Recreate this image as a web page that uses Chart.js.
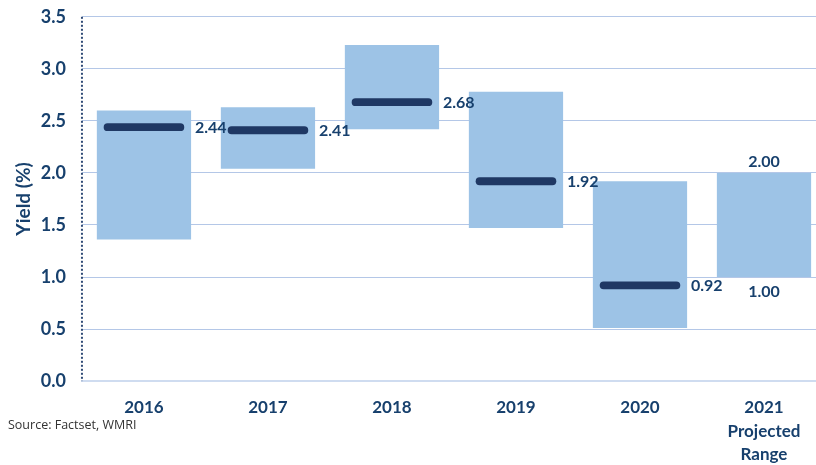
<!DOCTYPE html>
<html>
<head>
<meta charset="utf-8">
<script src="https://cdn.jsdelivr.net/npm/chart.js@4"></script>
<style>
    html, body { margin: 0; padding: 0; background: #fff; overflow: hidden; }
    #wrap { position: relative; width: 826px; height: 465px; overflow: hidden; }
    #yield_chart { position: absolute; left: 0; top: -10px; }
    #source {
        position: absolute; left: 8px; top: 416px;
        font: 12.5px 'Open Sans', sans-serif; color: #333;
    }
</style>
</head>
<body>
<div id="wrap">
    <canvas id="yield_chart" width="826" height="496"></canvas>
    <div id="source">Source: Factset, WMRI</div>
</div>
<script>
'use strict';

// yearly yield ranges (low / high) and the year average
var years = ['2016', '2017', '2018', '2019', '2020', ['2021', 'Projected', 'Range']];
var rangeLow = [1.36, 2.04, 2.42, 1.47, 0.51, 1.00];
var rangeHigh = [2.60, 2.63, 3.23, 2.78, 1.92, 2.00];
var average = [2.44, 2.41, 2.68, 1.92, 0.92, null];

var NAVY = '#1f3864';
var TEXT = '#17406d';
var FONT = 'Lato, "Open Sans", sans-serif';

/**
 * Dotted y axis line on the left of the plot area.
 */
var dottedAxis = {
    id: 'dottedAxis',
    beforeDatasetsDraw: function (chart) {
        var ctx = chart.ctx;
        var area = chart.chartArea;
        ctx.save();
        ctx.strokeStyle = '#2f4a75';
        ctx.lineWidth = 2;
        ctx.setLineDash([2, 2]);
        ctx.beginPath();
        ctx.moveTo(area.left, area.top);
        ctx.lineTo(area.left, area.bottom);
        ctx.stroke();
        ctx.restore();
    }
};

/**
 * Draw the value labels next to the average marks and round the 2021 range.
 */
var valueLabels = {
    id: 'valueLabels',
    afterDatasetsDraw: function (chart) {
        var ctx = chart.ctx;
        var x = chart.scales.x;
        var y = chart.scales.y;
        ctx.save();
        ctx.fillStyle = TEXT;
        ctx.font = 'bold 16px ' + FONT;
        ctx.textBaseline = 'middle';
        ctx.textAlign = 'left';
        average.forEach(function (v, i) {
            if (v === null) return;
            ctx.fillText(v.toFixed(2), x.getPixelForValue(i) + 51, y.getPixelForValue(v) + 1);
        });
        var last = years.length - 1;
        if (average[last] === null) {
            ctx.textAlign = 'center';
            ctx.fillText(rangeHigh[last].toFixed(2), x.getPixelForValue(last), y.getPixelForValue(rangeHigh[last]) - 11);
            ctx.fillText(rangeLow[last].toFixed(2), x.getPixelForValue(last), y.getPixelForValue(rangeLow[last]) + 15);
        }
        ctx.restore();
    }
};

var ctx = document.getElementById('yield_chart').getContext('2d');
new Chart(ctx, {
    type: 'bar',
    data: {
        labels: years,
        datasets: [{
            label: 'Average',
            data: average.map(function (v) { return v === null ? null : [v - 0.038, v + 0.038]; }),
            backgroundColor: NAVY,
            borderRadius: 5,
            borderSkipped: false,
            barPercentage: 0.65,
            categoryPercentage: 1,
            grouped: false,
            order: 0
        }, {
            label: 'Range',
            data: rangeLow.map(function (lo, i) { return [lo, rangeHigh[i]]; }),
            backgroundColor: '#9dc3e6',
            barPercentage: 0.76,
            categoryPercentage: 1,
            grouped: false,
            order: 1
        }]
    },
    options: {
        responsive: false,
        animation: false,
        layout: {
            padding: { top: -5, right: 0, bottom: 13, left: 12 }
        },
        plugins: {
            legend: { display: false },
            tooltip: { enabled: false }
        },
        scales: {
            x: {
                grid: { display: false },
                border: { display: true, color: '#cfdcf0', width: 2 },
                ticks: {
                    color: TEXT,
                    font: { family: FONT, size: 17, weight: 'bold', lineHeight: 1.41 },
                    padding: 6,
                    maxRotation: 0
                }
            },
            y: {
                min: 0,
                max: 3.5,
                grid: { color: '#b4c7e7', lineWidth: 1, drawTicks: false },
                border: { display: false },
                ticks: {
                    stepSize: 0.5,
                    color: TEXT,
                    padding: 16,
                    font: { family: FONT, size: 18, weight: 'bold' },
                    callback: function (v) { return v.toFixed(1); }
                },
                title: {
                    display: true,
                    text: 'Yield (%)',
                    color: TEXT,
                    font: { family: FONT, size: 19, weight: 'bold' },
                    padding: { top: 0, bottom: -10 }
                }
            }
        }
    },
    plugins: [dottedAxis, valueLabels]
});
</script>
</body>
</html>
